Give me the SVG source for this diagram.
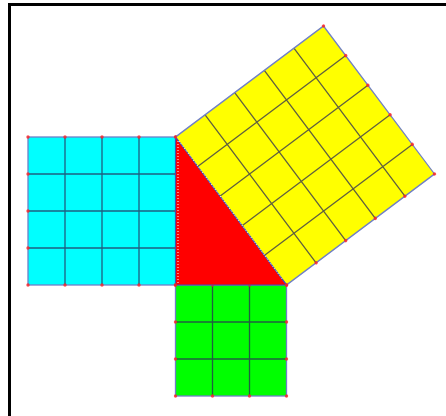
<svg xmlns="http://www.w3.org/2000/svg" width="446" height="416" viewBox="0 0 446 416">
<style>
.grid{stroke:#2a2a55;stroke-opacity:0.75;stroke-width:1.3;fill:none}
.edge{stroke:#6f7fc8;stroke-width:1.3;fill:none}
.dot{fill:#ff2020;fill-opacity:0.8}
</style>
<defs>
<circle id="d" r="1.7" class="dot"/>
</defs>
<rect width="446" height="416" fill="#fff"/>
<path d="M9.5,416 V4.5 H446" stroke="#000" stroke-width="3" fill="none"/>
<g id="cyan-square" transform="translate(28,137)">
<rect width="148" height="148" fill="#00ffff"/>
<path class="grid" d="M37,0V148M74,0V148M111,0V148M0,37H148M0,74H148M0,111H148"/>
<rect class="edge" width="148" height="148"/>
<use href="#d" x="0" y="0"/><use href="#d" x="37" y="0"/><use href="#d" x="74" y="0"/><use href="#d" x="111" y="0"/><use href="#d" x="148" y="0"/>
<use href="#d" x="0" y="37"/><use href="#d" x="0" y="74"/><use href="#d" x="0" y="111"/><use href="#d" x="0" y="148"/>
<use href="#d" x="37" y="148"/><use href="#d" x="74" y="148"/><use href="#d" x="111" y="148"/><use href="#d" x="148" y="148"/>
<use href="#d" x="148" y="37"/><use href="#d" x="148" y="74"/><use href="#d" x="148" y="111"/>
</g>
<g id="green-square" transform="translate(175.5,285)">
<rect width="111" height="111" fill="#00ff00"/>
<path class="grid" d="M37,0V111M74,0V111M0,37H111M0,74H111"/>
<rect class="edge" width="111" height="111"/>
<use href="#d" x="0" y="0"/><use href="#d" x="37" y="0"/><use href="#d" x="74" y="0"/><use href="#d" x="111" y="0"/>
<use href="#d" x="0" y="37"/><use href="#d" x="0" y="74"/><use href="#d" x="0" y="111"/>
<use href="#d" x="37" y="111"/><use href="#d" x="74" y="111"/><use href="#d" x="111" y="111"/>
<use href="#d" x="111" y="37"/><use href="#d" x="111" y="74"/>
</g>
<g id="yellow-square" transform="matrix(0.6,0.8,0.8,-0.6,175.5,137)">
<rect width="185" height="185" fill="#ffff00"/>
<path class="grid" d="M37,0V185M74,0V185M111,0V185M148,0V185M0,37H185M0,74H185M0,111H185M0,148H185"/>
<rect class="edge" width="185" height="185"/>
<use href="#d" x="0" y="185"/><use href="#d" x="37" y="185"/><use href="#d" x="74" y="185"/><use href="#d" x="111" y="185"/><use href="#d" x="148" y="185"/><use href="#d" x="185" y="185"/>
<use href="#d" x="185" y="0"/><use href="#d" x="185" y="37"/><use href="#d" x="185" y="74"/><use href="#d" x="185" y="111"/><use href="#d" x="185" y="148"/>
</g>
<g id="triangle">
<polygon points="175.5,137 175.5,285 286.5,285" fill="#ff0000" stroke="#4050b0" stroke-width="1.2"/>
<path d="M178,141 V283 M179,141 L283,280" stroke="#fff" stroke-width="1" stroke-dasharray="1,2" fill="none"/>
<use href="#d" x="175.5" y="137"/><use href="#d" x="175.5" y="285"/><use href="#d" x="286.5" y="285"/>
</g>
</svg>
